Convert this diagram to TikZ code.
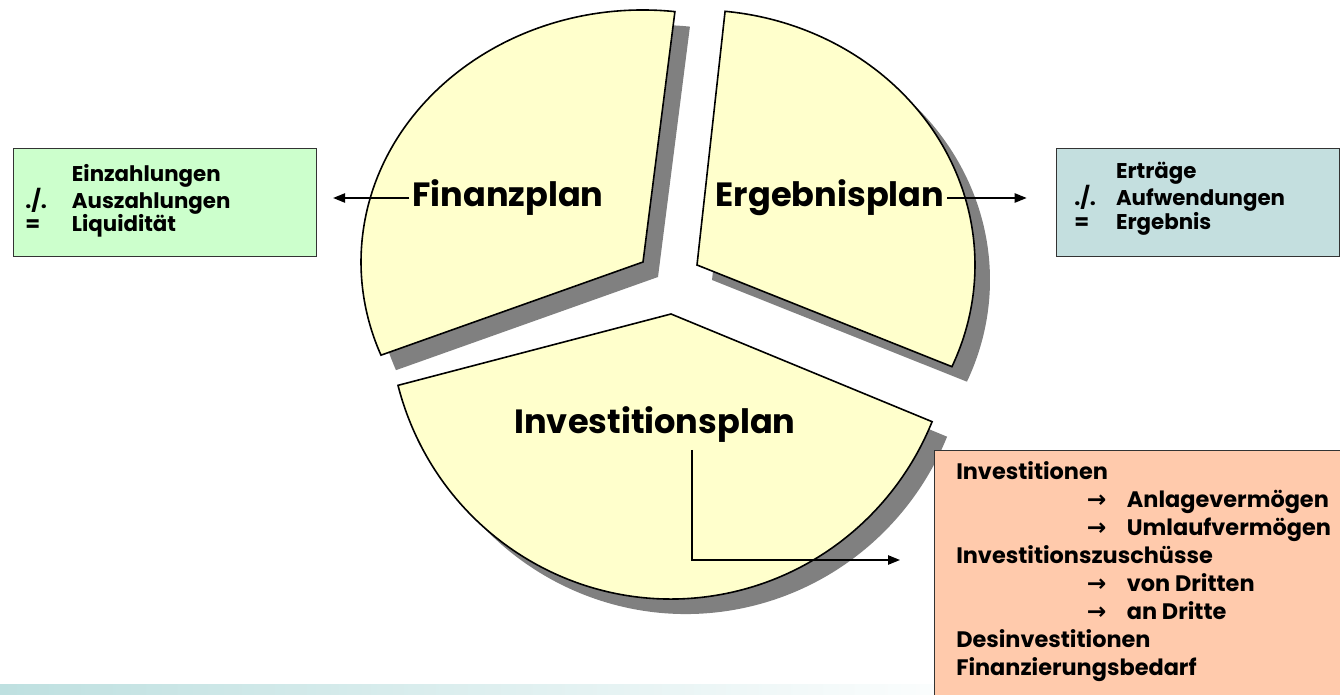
\documentclass[tikz,border=0pt]{standalone}
\usepackage{fontspec}
\setmainfont{Poppins}
\newfontfamily\arrowfont{DejaVu Sans}
\usetikzlibrary{positioning,arrows.meta}
\definecolor{planyellow}{RGB}{255,255,204}
\definecolor{planshadow}{RGB}{128,128,128}
\definecolor{fingreen}{RGB}{204,255,204}
\definecolor{ergteal}{RGB}{196,223,223}
\definecolor{invpeach}{RGB}{255,202,172}
\definecolor{bandteal}{RGB}{190,224,224}

\begin{document}
\begin{tikzpicture}[x=0.75pt,y=0.75pt,
  slice/.style={draw=black,line width=1.2pt,fill=planyellow,line join=miter},
  sliceshadow/.style={fill=planshadow,shift={(15,-15)}},
  plan/.style={font=\fontsize{25.2}{29}\selectfont\bfseries,inner sep=2pt},
  infobox/.style={draw=black!80,line width=0.8pt,inner sep=0pt,anchor=north west},
  infotext/.style={inner sep=0pt,anchor=north west},
  link/.style={line width=1.1pt,-{Triangle[length=9pt,width=7pt]}}]
\useasboundingbox (0,0) rectangle (1340,-695);
\shade[left color=bandteal,right color=white] (0,-684) rectangle (1000,-695);

\fill[sliceshadow] (643,-262) -- ++(83.5:211.5pt and 189pt) arc[start angle=83.5,end angle=201.7,x radius=211.5pt,y radius=189pt] -- cycle;
\fill[sliceshadow] (697,-265) -- ++(84.2:208.5pt and 191.25pt) arc[start angle=84.2,end angle=-23.5,x radius=208.5pt,y radius=191.25pt] -- cycle;
\fill[sliceshadow] (671,-314) -- ++(194.5:211.5pt and 213.75pt) arc[start angle=194.5,end angle=337.8,x radius=211.5pt,y radius=213.75pt] -- cycle;

\filldraw[slice] (643,-262) -- ++(83.5:211.5pt and 189pt) arc[start angle=83.5,end angle=201.7,x radius=211.5pt,y radius=189pt] -- cycle;
\filldraw[slice] (697,-265) -- ++(84.2:208.5pt and 191.25pt) arc[start angle=84.2,end angle=-23.5,x radius=208.5pt,y radius=191.25pt] -- cycle;
\filldraw[slice] (671,-314) -- ++(194.5:211.5pt and 213.75pt) arc[start angle=194.5,end angle=337.8,x radius=211.5pt,y radius=213.75pt] -- cycle;

\node[plan] (fin) at (508,-198) {Finanzplan};
\node[plan] (erg) at (830,-198) {Ergebnisplan};
\node[plan] (inv) at (655,-425) {Investitionsplan};

\node[infobox,fill=fingreen,minimum width=227.5pt,minimum height=81pt] (einbox) at (12.7,-148) {};
\node[infobox,fill=ergteal,minimum width=212.25pt,minimum height=81pt] (ertbox) at (1056,-148) {};
\node[infobox,fill=invpeach,minimum width=312pt,minimum height=195pt] (invbox) at (934,-450) {};

\node[infotext,font=\fontsize{16}{16}\selectfont\bfseries] (eintext) at (25,-164.3)
  {\begin{tabular}{@{}p{35pt}@{}l@{}}
   & Einzahlungen\\
   ./. & Auszahlungen\\
   = & Liquidität
   \end{tabular}};
\node[infotext,font=\fontsize{16}{16}\selectfont\bfseries] (erttext) at (1074,-162.3)
  {\begin{tabular}{@{}p{31.3pt}@{}l@{}}
   & Erträge\\
   ./. & Aufwendungen\\
   = & Ergebnis
   \end{tabular}};
\node[infotext,font=\fontsize{16.8}{21}\selectfont\bfseries] (invtext) at (956,-459.5)
  {\begin{tabular}{@{}l@{}}
   Investitionen\\
   \hspace*{98pt}\makebox[30pt][l]{\arrowfont\fontsize{17.5}{21}\selectfont →}Anlagevermögen\\
   \hspace*{98pt}\makebox[30pt][l]{\arrowfont\fontsize{17.5}{21}\selectfont →}Umlaufvermögen\\
   Investitionszuschüsse\\
   \hspace*{98pt}\makebox[30pt][l]{\arrowfont\fontsize{17.5}{21}\selectfont →}von Dritten\\
   \hspace*{98pt}\makebox[30pt][l]{\arrowfont\fontsize{17.5}{21}\selectfont →}an Dritte\\
   Desinvestitionen\\
   Finanzierungsbedarf
   \end{tabular}};

\coordinate (invstart) at (692,-450);
\coordinate (invtip) at (900,-560);
\draw[link,shorten >=12pt] (fin.west) -- (fin.west -| einbox.east);
\draw[link,shorten >=22pt] (erg.east) -- (erg.east -| ertbox.west);
\draw[link] (invstart) |- (invtip);
\end{tikzpicture}
\end{document}
